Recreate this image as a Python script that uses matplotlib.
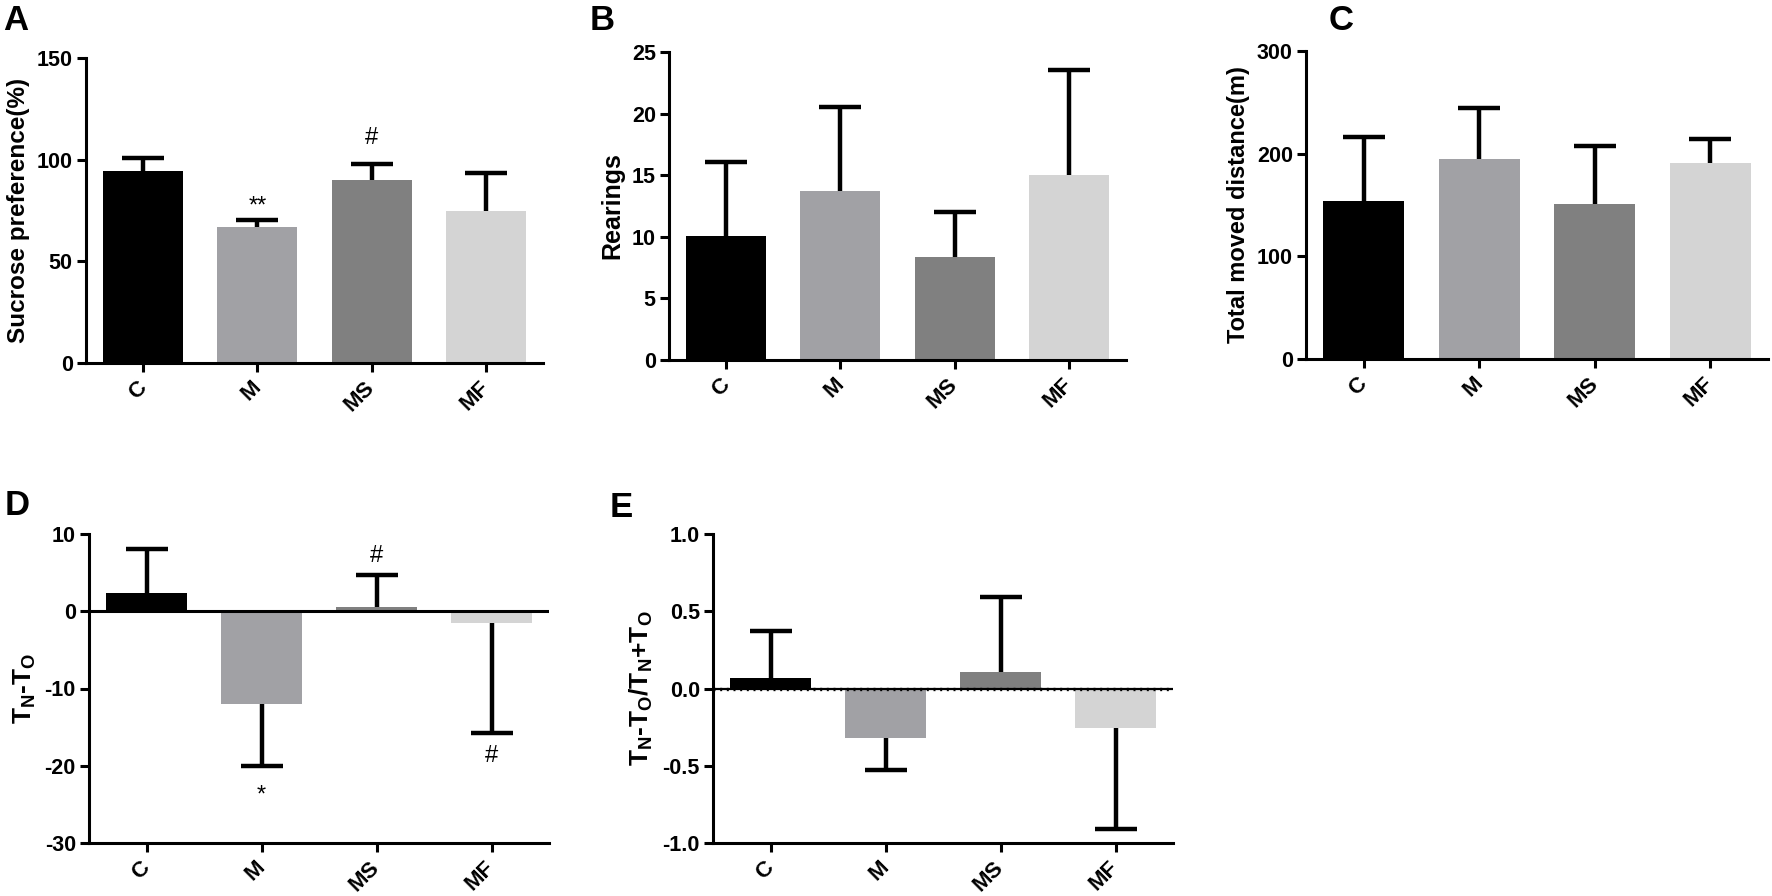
import numpy as np
import matplotlib.pyplot as plt

plt.rcParams['font.family'] = ['Liberation Sans', 'DejaVu Sans']
plt.rcParams['font.weight'] = 'bold'
plt.rcParams['axes.labelweight'] = 'bold'
plt.rcParams['axes.unicode_minus'] = False
plt.rcParams['mathtext.fontset'] = 'custom'
plt.rcParams['mathtext.rm'] = 'Liberation Sans:bold'
plt.rcParams['mathtext.it'] = 'Liberation Sans:bold'
plt.rcParams['mathtext.bf'] = 'Liberation Sans:bold'

# data (mean and one-sided SD)
groups = ['C', 'M', 'MS', 'MF']
bar_colors = ['#000000', '#a1a1a5', '#808080', '#d4d4d4']

sucrose_mean = [94.3, 66.7, 89.8, 74.6]
sucrose_sd = [6.5, 3.8, 8.2, 18.7]
rearings_mean = [10.1, 13.7, 8.4, 15.0]
rearings_sd = [6.0, 6.8, 3.6, 8.5]
distance_mean = [154, 195, 151, 191]
distance_sd = [62, 49, 56, 23]
tnto_mean = [2.3, -12.0, 0.6, -1.5]
tnto_sd = [5.7, 8.0, 4.1, 14.2]
ratio_mean = [0.07, -0.32, 0.11, -0.255]
ratio_sd = [0.30, 0.21, 0.48, 0.655]

# significance marks: (group index, y, text)
sucrose_marks = [(1, 77.0, '**'), (2, 110.5, '#')]
tnto_marks = [(1, -23.8, '*'), (2, 7.2, '#'), (3, -18.7, '#')]

W, H = 1772, 896
fig = plt.figure(figsize=(W / 100, H / 100), dpi=100)


def add_ax(l, t, r, b):
    return fig.add_axes([l / W, 1 - b / H, (r - l) / W, (b - t) / H])


def draw_panel(ax, means, sds, ylim, yticks, ylabel, fmt='%g', zero=None,
               labelsize=17.5):
    x = np.arange(len(groups))
    means = np.array(means, dtype=float)
    sds = np.array(sds, dtype=float)
    sign = np.where(means >= 0, 1, -1)
    ax.bar(x, means, width=0.70, color=bar_colors, zorder=2)
    lower = np.where(sign < 0, sds, 0)
    upper = np.where(sign > 0, sds, 0)
    ax.errorbar(x, means, yerr=[lower, upper], fmt='none', ecolor='k',
                elinewidth=3.2, capsize=0, zorder=3)
    ax.plot(x, means + sign * sds, ls='none', marker='_', ms=30, mew=3.2,
            color='k', zorder=3)
    if zero == 'solid':
        ax.axhline(0, color='k', lw=2.2, zorder=4)
    elif zero == 'dotted':
        ax.axhline(0, color='k', lw=1.6, zorder=4)
        ax.axhline(0, color='k', lw=2.4, ls=(0, (0.6, 1.4)), zorder=4)
    ax.set_xlim(-0.5, 3.5)
    ax.set_ylim(*ylim)
    ax.set_yticks(yticks)
    ax.set_yticklabels([fmt % v for v in yticks])
    ax.set_xticks(x)
    ax.set_xticklabels(groups)
    for lab in ax.get_xticklabels():
        lab.set_rotation(45)
        lab.set_ha('right')
        lab.set_va('center')
        lab.set_rotation_mode('anchor')
        lab.set_fontsize(16)
    for s in ['top', 'right']:
        ax.spines[s].set_visible(False)
    for s in ['left', 'bottom']:
        ax.spines[s].set_linewidth(2.2)
    ax.tick_params(axis='both', width=2.2, length=6.5)
    ax.tick_params(axis='y', pad=3, labelsize=15.5)
    ax.tick_params(axis='x', pad=9)
    ax.set_ylabel(ylabel, fontsize=labelsize, fontweight='bold', labelpad=5)


ax_a = add_ax(86, 58, 543, 363)
draw_panel(ax_a, sucrose_mean, sucrose_sd, (0, 150), [0, 50, 100, 150],
           'Sucrose preference(%)')
for i, y, t in sucrose_marks:
    ax_a.text(i, y, t, ha='center', va='center', fontsize=17, fontweight='normal')

ax_b = add_ax(669, 52, 1126, 360)
draw_panel(ax_b, rearings_mean, rearings_sd, (0, 25), [0, 5, 10, 15, 20, 25],
           'Rearings', labelsize=18)

ax_c = add_ax(1306, 51, 1768, 359)
draw_panel(ax_c, distance_mean, distance_sd, (0, 300), [0, 100, 200, 300],
           'Total moved distance(m)', labelsize=17)

ax_d = add_ax(89, 534, 549, 843)
draw_panel(ax_d, tnto_mean, tnto_sd, (-30, 10), [-30, -20, -10, 0, 10],
           r'T$_N$-T$_O$', zero='solid', labelsize=19)
for i, y, t in tnto_marks:
    ax_d.text(i, y, t, ha='center', va='center', fontsize=17, fontweight='normal')

ax_e = add_ax(713, 534, 1173, 843)
draw_panel(ax_e, ratio_mean, ratio_sd, (-1, 1), [-1.0, -0.5, 0.0, 0.5, 1.0],
           r'T$_N$-T$_O$/T$_N$+T$_O$', fmt='%.1f', zero='dotted', labelsize=19)

# panel letters
for txt, xp, yp in [('A', 3, 30), ('B', 590, 30), ('C', 1329, 30),
                    ('D', 5, 515), ('E', 610, 517)]:
    fig.text(xp / W, 1 - yp / H, txt, fontsize=25, fontweight='bold',
             ha='left', va='baseline')

fig.savefig('out.png', dpi=100)
